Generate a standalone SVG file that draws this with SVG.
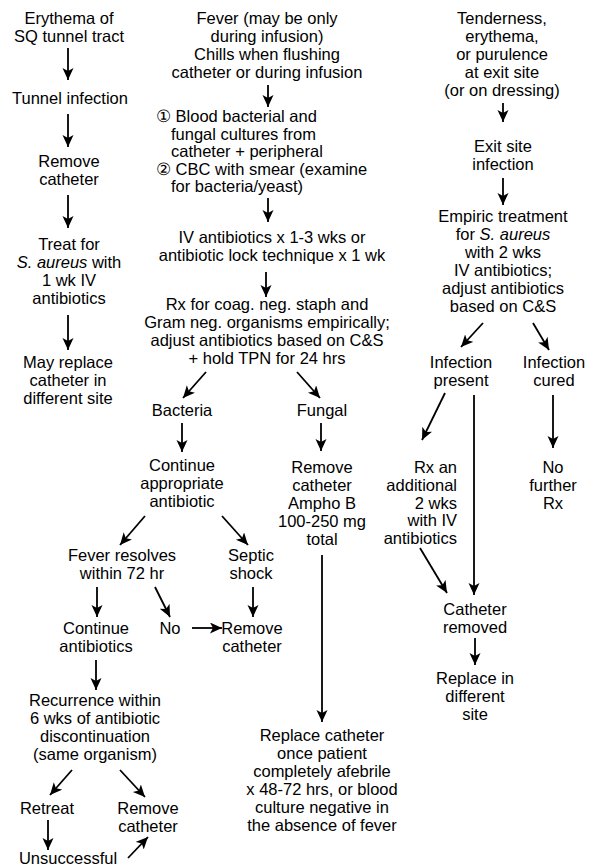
<svg xmlns="http://www.w3.org/2000/svg" width="593" height="867" viewBox="0 0 593 867">
<defs>
<marker id="ah" markerUnits="userSpaceOnUse" markerWidth="13" markerHeight="12" refX="12" refY="5.5" orient="auto">
<path d="M0,0 L12,5.5 L0,11 L3,5.5 z" fill="#000"/>
</marker>
<style>
text{font-family:"Liberation Sans",Arial,Helvetica,sans-serif;font-size:16.5px;fill:#000;text-anchor:middle}
.l{text-anchor:start}
.r{text-anchor:end}
.i{font-style:italic}
.c line{stroke:#000;stroke-width:1.8;marker-end:url(#ah)}
</style>
</defs>
<rect width="593" height="867" fill="#fff"/>

<g id="erythema"><text x="69" y="24">Erythema of</text><text x="69" y="42">SQ tunnel tract</text></g>
<g id="tunnel"><text x="70" y="104">Tunnel infection</text></g>
<g id="remove1"><text x="69" y="167">Remove</text><text x="69" y="185">catheter</text></g>
<g id="treat"><text x="69" y="250">Treat for</text><text x="69" y="268"><tspan class="i">S. aureus</tspan> with</text><text x="69" y="286">1 wk IV</text><text x="69" y="304">antibiotics</text></g>
<g id="mayreplace"><text x="68" y="368">May replace</text><text x="68" y="386">catheter in</text><text x="68" y="404">different site</text></g>

<g id="fever"><text x="267" y="24">Fever (may be only</text><text x="267" y="42">during infusion)</text><text x="267" y="60">Chills when flushing</text><text x="267" y="78">catheter or during infusion</text></g>
<g id="cultures"><text class="l" x="156" y="122">① Blood bacterial and</text><text class="l" x="171" y="140">fungal cultures from</text><text class="l" x="171" y="157">catheter + peripheral</text><text class="l" x="156" y="175">② CBC with smear (examine</text><text class="l" x="171" y="192">for bacteria/yeast)</text></g>
<g id="ivabx"><text x="272" y="243">IV antibiotics x 1-3 wks or</text><text x="272" y="261">antibiotic lock technique x 1 wk</text></g>
<g id="rx"><text x="267" y="310">Rx for coag. neg. staph and</text><text x="267" y="328">Gram neg. organisms empirically;</text><text x="267" y="346">adjust antibiotics based on C&amp;S</text><text x="267" y="364">+ hold TPN for 24 hrs</text></g>
<g id="bacteria"><text x="182" y="416">Bacteria</text></g>
<g id="fungal"><text x="322" y="416">Fungal</text></g>
<g id="continue1"><text x="182" y="471">Continue</text><text x="182" y="489">appropriate</text><text x="182" y="507">antibiotic</text></g>
<g id="ampho"><text x="322" y="473">Remove</text><text x="322" y="491">catheter</text><text x="322" y="509">Ampho B</text><text x="322" y="527">100-250 mg</text><text x="322" y="545">total</text></g>
<g id="feverres"><text x="122" y="561">Fever resolves</text><text x="122" y="579">within 72 hr</text></g>
<g id="septic"><text x="251" y="561">Septic</text><text x="251" y="579">shock</text></g>
<g id="contabx"><text x="96" y="634">Continue</text><text x="96" y="652">antibiotics</text></g>
<g id="no"><text x="170" y="634">No</text></g>
<g id="remove2"><text x="252" y="634">Remove</text><text x="252" y="652">catheter</text></g>
<g id="recurrence"><text x="95" y="706">Recurrence within</text><text x="95" y="724">6 wks of antibiotic</text><text x="95" y="742">discontinuation</text><text x="95" y="760">(same organism)</text></g>
<g id="retreat"><text x="47" y="814">Retreat</text></g>
<g id="remove3"><text x="148" y="814">Remove</text><text x="148" y="832">catheter</text></g>
<g id="unsuccessful"><text x="68" y="864">Unsuccessful</text></g>
<g id="replacecath"><text x="322" y="741">Replace catheter</text><text x="322" y="759">once patient</text><text x="322" y="777">completely afebrile</text><text x="322" y="795">x 48-72 hrs, or blood</text><text x="322" y="813">culture negative in</text><text x="322" y="831">the absence of fever</text></g>

<g id="tenderness"><text x="502" y="24">Tenderness,</text><text x="502" y="42">erythema,</text><text x="502" y="60">or purulence</text><text x="502" y="78">at exit site</text><text x="502" y="96">(or on dressing)</text></g>
<g id="exitsite"><text x="503" y="152">Exit site</text><text x="503" y="170">infection</text></g>
<g id="empiric"><text x="503" y="222">Empiric treatment</text><text x="503" y="240">for <tspan class="i">S. aureus</tspan></text><text x="503" y="258">with 2 wks</text><text x="503" y="276">IV antibiotics;</text><text x="503" y="294">adjust antibiotics</text><text x="503" y="312">based on C&amp;S</text></g>
<g id="infpresent"><text x="461" y="368">Infection</text><text x="461" y="386">present</text></g>
<g id="infcured"><text x="554" y="368">Infection</text><text x="554" y="386">cured</text></g>
<g id="nofurther"><text x="553" y="473">No</text><text x="553" y="491">further</text><text x="553" y="509">Rx</text></g>
<g id="rxadd"><text class="r" x="457" y="473">Rx an</text><text class="r" x="457" y="491">additional</text><text class="r" x="457" y="509">2 wks</text><text class="r" x="457" y="526">with IV</text><text class="r" x="457" y="544">antibiotics</text></g>
<g id="cathremoved"><text x="475" y="615">Catheter</text><text x="475" y="633">removed</text></g>
<g id="replacein"><text x="475" y="684">Replace in</text><text x="475" y="702">different</text><text x="475" y="720">site</text></g>

<g id="connectors" class="c">
<line x1="68" y1="48" x2="68" y2="80"/>
<line x1="68" y1="114" x2="68" y2="147"/>
<line x1="68" y1="195" x2="68" y2="228"/>
<line x1="68" y1="315" x2="68" y2="350"/>
<line x1="268" y1="85" x2="268" y2="107"/>
<line x1="268" y1="198" x2="268" y2="222"/>
<line x1="266" y1="272" x2="266" y2="297"/>
<line x1="206" y1="372" x2="183" y2="398"/>
<line x1="297" y1="372" x2="320" y2="398"/>
<line x1="182" y1="423" x2="182" y2="452"/>
<line x1="321" y1="423" x2="321" y2="451"/>
<line x1="145" y1="516" x2="120" y2="545"/>
<line x1="222" y1="516" x2="248" y2="545"/>
<line x1="322" y1="555" x2="322" y2="722"/>
<line x1="97" y1="587" x2="97" y2="617"/>
<line x1="155" y1="587" x2="170" y2="617"/>
<line x1="253" y1="587" x2="253" y2="617"/>
<line x1="192" y1="628" x2="222" y2="628"/>
<line x1="96" y1="660" x2="96" y2="690"/>
<line x1="72" y1="770" x2="50" y2="795"/>
<line x1="120" y1="770" x2="145" y2="797"/>
<line x1="48" y1="820" x2="48" y2="850"/>
<line x1="128" y1="858" x2="148" y2="837"/>
<line x1="503" y1="103" x2="503" y2="122"/>
<line x1="503" y1="178" x2="503" y2="205"/>
<line x1="483" y1="323" x2="461" y2="347"/>
<line x1="533" y1="323" x2="549" y2="350"/>
<line x1="445" y1="393" x2="422" y2="440"/>
<line x1="474" y1="395" x2="474" y2="595"/>
<line x1="553" y1="395" x2="553" y2="448"/>
<line x1="420" y1="548" x2="447" y2="593"/>
<line x1="475" y1="638" x2="475" y2="665"/>
</g>
</svg>
